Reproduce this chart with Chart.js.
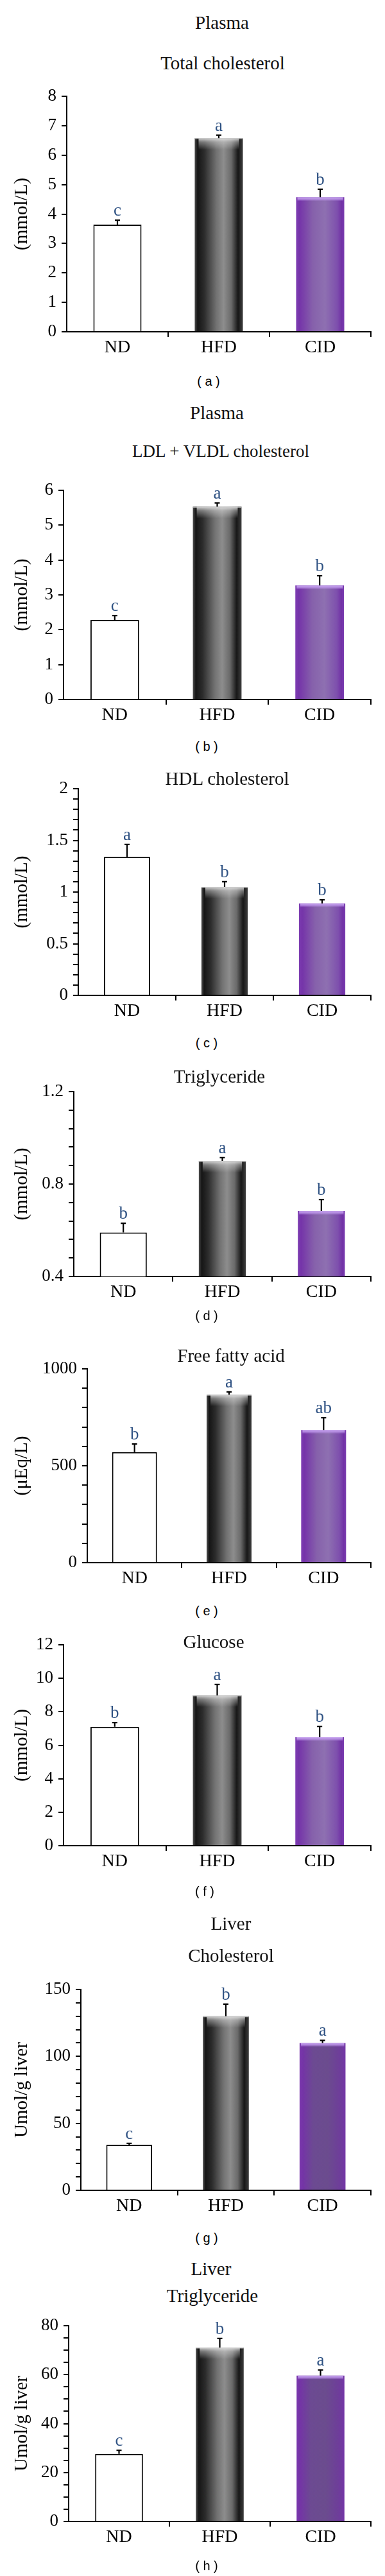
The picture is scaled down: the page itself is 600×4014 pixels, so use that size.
<!DOCTYPE html>
<html>
<head>
<meta charset="utf-8">
<script src="https://cdn.jsdelivr.net/npm/chart.js@4.4.1/dist/chart.umd.min.js"></script>
<style>
html,body{margin:0;padding:0;background:#fff;}
#page{position:relative;width:600px;height:4014px;overflow:hidden;background:#fff;}
#page canvas{position:absolute;left:0;}
.t{position:absolute;font-family:"Liberation Serif","Times New Roman",serif;font-size:29px;line-height:29px;color:#111;white-space:nowrap;transform:translate(-50%,-50%);z-index:2;}
.t26{font-size:27px;line-height:27px;}
.p{position:absolute;font-family:"Liberation Sans",Arial,sans-serif;font-size:20px;line-height:20px;color:#000;white-space:pre;transform:translate(-50%,-50%);z-index:2;}
</style>
</head>
<body>
<div id="page"></div>
<script>
// ---------------- data ----------------
const categories = ["ND", "HFD", "CID"];

// (a) Plasma total cholesterol (mmol/L)
const totalCholesterol = [3.64, 6.58, 4.57];
const totalCholesterolSEM = [0.15, 0.10, 0.27];
const totalCholesterolSig = ["c", "a", "b"];
const totalCholesterolTicks = [0, 1, 2, 3, 4, 5, 6, 7, 8];

// (b) Plasma LDL + VLDL cholesterol (mmol/L)
const ldlCholesterol = [2.28, 5.53, 3.27];
const ldlCholesterolSEM = [0.13, 0.11, 0.28];
const ldlCholesterolSig = ["c", "a", "b"];
const ldlCholesterolTicks = [0, 1, 2, 3, 4, 5, 6];

// (c) HDL cholesterol (mmol/L)
const hdlCholesterol = [1.34, 1.05, 0.89];
const hdlCholesterolSEM = [0.12, 0.05, 0.035];
const hdlCholesterolSig = ["a", "b", "b"];
const hdlCholesterolTicks = [0, 0.5, 1, 1.5, 2];

// (d) Plasma triglyceride (mmol/L)
const plasmaTG = [0.59, 0.90, 0.683];
const plasmaTGSEM = [0.04, 0.014, 0.05];
const plasmaTGSig = ["b", "a", "b"];
const plasmaTGTicks = [0.4, 0.8, 1.2];

// (e) Free fatty acid (uEq/L)
const freeFattyAcid = [570, 867, 685];
const freeFattyAcidSEM = [42, 14, 63];
const freeFattyAcidSig = ["b", "a", "ab"];
const freeFattyAcidTicks = [0, 500, 1000];

// (f) Glucose (mmol/L)
const glucose = [7.10, 8.98, 6.48];
const glucoseSEM = [0.26, 0.65, 0.65];
const glucoseSig = ["b", "a", "b"];
const glucoseTicks = [0, 2, 4, 6, 8, 10, 12];

// (g) Liver cholesterol (umol/g liver)
const liverCholesterol = [34, 130, 110];
const liverCholesterolSEM = [1, 9, 2];
const liverCholesterolSig = ["c", "b", "a"];
const liverCholesterolTicks = [0, 50, 100, 150];

// (h) Liver triglyceride (umol/g liver)
const liverTG = [27.6, 71.1, 59.6];
const liverTGSEM = [1.5, 3.7, 2.3];
const liverTGSig = ["c", "b", "a"];
const liverTGTicks = [0, 20, 40, 60, 80];

// ---------------- layout / style ----------------
const SERIF = '"Liberation Serif", "Times New Roman", serif';
const LETTER_COLOR = '#2f5283';
const BAR_FRAC = 0.475;
const barKinds = ['white', 'gray', 'purple'];

const grayStops = [[0,'#4d4d4d'],[0.06,'#151515'],[0.2,'#2c2c2c'],[0.45,'#727272'],[0.6,'#8d8d8d'],[0.76,'#6a6a6a'],[0.9,'#171717'],[1,'#3e3e3e']];
const purpleLight = [[0,'#7d3db2'],[0.07,'#7534a9'],[0.35,'#8661ab'],[0.6,'#8e70b1'],[0.85,'#7e50ad'],[0.95,'#7131a6'],[1,'#7b3eb1']];
const purpleDark = [[0,'#7a37ad'],[0.07,'#7434a6'],[0.3,'#6c4a92'],[0.6,'#6b4c8e'],[0.88,'#6e3d9a'],[1,'#7436a7']];

const panels = [
  {values: totalCholesterol, sem: totalCholesterolSEM, sig: totalCholesterolSig, ticks: totalCholesterolTicks, minor: 1, yTitle: '(mmol/L)', axisX: 104, yTop: 150, yBot: 517, purple: purpleLight},
  {values: ldlCholesterol, sem: ldlCholesterolSEM, sig: ldlCholesterolSig, ticks: ldlCholesterolTicks, minor: 1, yTitle: '(mmol/L)', axisX: 99, yTop: 764, yBot: 1090, purple: purpleLight},
  {values: hdlCholesterol, sem: hdlCholesterolSEM, sig: hdlCholesterolSig, ticks: hdlCholesterolTicks, minor: 0.1, yTitle: '(mmol/L)', axisX: 122, yTop: 1229, yBot: 1551, purple: purpleLight},
  {values: plasmaTG, sem: plasmaTGSEM, sig: plasmaTGSig, ticks: plasmaTGTicks, minor: 0.08, yTitle: '(mmol/L)', axisX: 115, yTop: 1701, yBot: 1989, purple: purpleLight},
  {values: freeFattyAcid, sem: freeFattyAcidSEM, sig: freeFattyAcidSig, ticks: freeFattyAcidTicks, minor: 100, yTitle: '(\u03bcEq/L)', axisX: 136, yTop: 2133, yBot: 2435, purple: purpleLight},
  {values: glucose, sem: glucoseSEM, sig: glucoseSig, ticks: glucoseTicks, minor: 2, yTitle: '(mmol/L)', axisX: 99, yTop: 2563, yBot: 2876, purple: purpleLight},
  {values: liverCholesterol, sem: liverCholesterolSEM, sig: liverCholesterolSig, ticks: liverCholesterolTicks, minor: 10, yTitle: 'Umol/g liver', axisX: 126, yTop: 3100, yBot: 3413, purple: purpleDark},
  {values: liverTG, sem: liverTGSEM, sig: liverTGSig, ticks: liverTGTicks, minor: 5, yTitle: 'Umol/g liver', axisX: 107, yTop: 3624, yBot: 3929, purple: purpleDark}
];

const texts = [
  ['Plasma', 346, 35, 't'], ['Total cholesterol', 347, 98, 't'], ['( a )', 325, 594, 'p'],
  ['Plasma', 338, 643, 't'], ['LDL + VLDL cholesterol', 344, 703, 't t26'], ['( b )', 322, 1163, 'p'],
  ['HDL cholesterol', 354, 1213, 't'], ['( c )', 322, 1625, 'p'],
  ['Triglyceride', 342, 1677, 't'], ['( d )', 322, 2050, 'p'],
  ['Free fatty acid', 360, 2112, 't'], ['( e )', 322, 2510, 'p'],
  ['Glucose', 333, 2558, 't'], ['( f )', 319, 2947, 'p'],
  ['Liver', 360, 2997, 't'], ['Cholesterol', 360, 3047, 't'], ['( g )', 322, 3487, 'p'],
  ['Liver', 329, 3535, 't'], ['Triglyceride', 331, 3577, 't'], ['( h )', 322, 3998, 'p']
];

const page = document.getElementById('page');
texts.forEach(([s, x, y, cls]) => {
  const d = document.createElement('div');
  d.className = cls;
  d.textContent = s;
  d.style.left = x + 'px';
  d.style.top = y + 'px';
  page.appendChild(d);
});

// ---------------- plugins ----------------
const glossPlugin = {
  id: 'gloss',
  afterDatasetsDraw(chart) {
    const ctx = chart.ctx;
    const meta = chart.getDatasetMeta(0);
    meta.data.forEach((el, i) => {
      const kind = barKinds[i];
      if (kind === 'white') return;
      const {x, y, width} = el.getProps(['x', 'y', 'width'], true);
      const l = x - width / 2;
      ctx.save();
      if (kind === 'gray') {
        const g = ctx.createLinearGradient(0, y, 0, y + 18);
        g.addColorStop(0, 'rgba(240,240,240,0.85)');
        g.addColorStop(0.35, 'rgba(220,220,220,0.45)');
        g.addColorStop(1, 'rgba(220,220,220,0)');
        ctx.fillStyle = g;
        ctx.fillRect(l + 6, y, width - 12, 18);
        ctx.fillStyle = 'rgba(200,200,200,0.9)';
        ctx.fillRect(l, y, width, 1.5);
      } else {
        const g = ctx.createLinearGradient(0, y, 0, y + 6);
        g.addColorStop(0, 'rgba(200,165,240,1)');
        g.addColorStop(0.5, 'rgba(190,150,235,0.8)');
        g.addColorStop(1, 'rgba(190,150,235,0)');
        ctx.fillStyle = g;
        ctx.fillRect(l + 2, y, width - 4, 6);
      }
      ctx.restore();
    });
  }
};

const annotPlugin = {
  id: 'annot',
  afterDatasetsDraw(chart, args, opts) {
    const ctx = chart.ctx;
    const ys = chart.scales.y;
    const ds = chart.data.datasets[0];
    const meta = chart.getDatasetMeta(0);
    meta.data.forEach((el, i) => {
      const {x, y} = el.getProps(['x', 'y'], true);
      const yt = ys.getPixelForValue(ds.data[i] + opts.sem[i]);
      ctx.save();
      ctx.strokeStyle = '#000';
      ctx.lineWidth = 2.2;
      ctx.beginPath();
      ctx.moveTo(x, y);
      ctx.lineTo(x, yt);
      ctx.moveTo(x - 4, yt);
      ctx.lineTo(x + 4, yt);
      ctx.stroke();
      ctx.font = '27px ' + SERIF;
      ctx.fillStyle = LETTER_COLOR;
      ctx.textAlign = 'center';
      ctx.textBaseline = 'alphabetic';
      ctx.fillText(opts.sig[i], x, yt - 7);
      ctx.restore();
    });
  }
};

function makeFill(panel) {
  return (c) => {
    const i = c.dataIndex;
    const kind = barKinds[i];
    if (kind === 'white') return '#ffffff';
    const chart = c.chart;
    const xs = chart.scales && chart.scales.x;
    if (!xs || !chart.chartArea || xs.width <= 0) return kind === 'gray' ? '#555' : '#7d4fb0';
    const cx = xs.getPixelForValue(i);
    const w = (xs.width / categories.length) * BAR_FRAC;
    const g = chart.ctx.createLinearGradient(cx - w / 2, 0, cx + w / 2, 0);
    (kind === 'gray' ? grayStops : panel.purple).forEach(([p, col]) => g.addColorStop(p, col));
    return g;
  };
}

// ---------------- charts ----------------
const PAD_TOP = 30;
const X_H = 62;
panels.forEach((panel) => {
  const canvas = document.createElement('canvas');
  const h = panel.yBot - panel.yTop + PAD_TOP + X_H;
  canvas.width = 600;
  canvas.height = h;
  canvas.style.top = (panel.yTop - PAD_TOP) + 'px';
  canvas.style.width = '600px';
  canvas.style.height = h + 'px';
  page.appendChild(canvas);

  const yMin = panel.ticks[0];
  const yMax = panel.ticks[panel.ticks.length - 1];

  new Chart(canvas, {
    type: 'bar',
    data: {
      labels: categories,
      datasets: [{
        data: panel.values,
        backgroundColor: makeFill(panel),
        borderColor: ['#000000', 'rgba(0,0,0,0)', 'rgba(0,0,0,0)'],
        borderWidth: [2, 0, 0],
        borderSkipped: 'bottom',
        barPercentage: BAR_FRAC,
        categoryPercentage: 1
      }]
    },
    options: {
      responsive: false,
      animation: false,
      devicePixelRatio: 1,
      layout: {padding: {top: PAD_TOP, right: 22, bottom: 0, left: 0}},
      plugins: {
        legend: {display: false},
        tooltip: {enabled: false},
        title: {display: false},
        annot: {sem: panel.sem, sig: panel.sig}
      },
      scales: {
        x: {
          grid: {
            offset: true,
            drawOnChartArea: false,
            drawTicks: true,
            tickLength: 8,
            lineWidth: 2,
            color: (c) => c.index === 0 ? 'rgba(0,0,0,0)' : '#000'
          },
          border: {display: true, color: '#000', width: 2},
          ticks: {color: '#000', font: {family: SERIF, size: 28}, padding: 0, maxRotation: 0, autoSkip: false},
          afterFit: (s) => { s.height = X_H; }
        },
        y: {
          min: yMin,
          max: yMax,
          grace: 0,
          grid: {drawOnChartArea: false, drawTicks: true, tickLength: 8, lineWidth: 2, color: '#000'},
          border: {display: true, color: '#000', width: 2},
          ticks: {
            color: '#000',
            font: {family: SERIF, size: 27},
            padding: 8,
            autoSkip: false,
            callback: (v) => {
              const m = panel.ticks.find((t) => Math.abs(t - v) < 1e-6);
              return m === undefined ? '' : String(m);
            }
          },
          afterBuildTicks: (s) => {
            const out = [];
            const n = Math.round((yMax - yMin) / panel.minor);
            for (let j = 0; j <= n; j++) {
              out.push({value: Math.round((yMin + j * panel.minor) * 1e6) / 1e6});
            }
            s.ticks = out;
          },
          title: {
            display: true,
            text: panel.yTitle,
            color: '#000',
            font: {family: SERIF, size: 29},
            padding: {top: 17, bottom: 0}
          },
          afterFit: (s) => { s.width = panel.axisX; }
        }
      }
    },
    plugins: [glossPlugin, annotPlugin]
  });
});
</script>
</body>
</html>
